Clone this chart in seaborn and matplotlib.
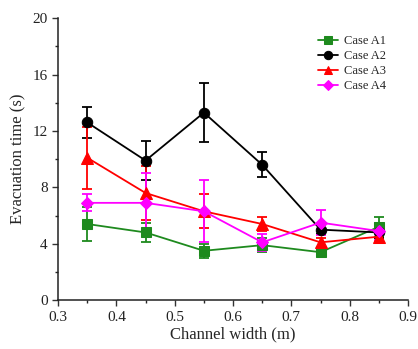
import numpy as np
import pandas as pd
import matplotlib
matplotlib.use("Agg")
import matplotlib.pyplot as plt
import seaborn as sns
from matplotlib.ticker import MultipleLocator

widths = [0.35, 0.45, 0.55, 0.65, 0.75, 0.85]
cases = ["Case A1", "Case A2", "Case A3", "Case A4"]
a1 = [5.4, 4.8, 3.5, 3.9, 3.4, 5.2]
a1_err = [1.2, 0.7, 0.5, 0.5, 0.3, 0.7]
a2 = [12.6, 9.9, 13.3, 9.6, 5.0, 4.8]
a2_err = [1.1, 1.4, 2.1, 0.9, 0.3, 0.4]
a3 = [10.1, 7.6, 6.3, 5.4, 4.1, 4.5]
a3_err = [2.2, 1.9, 1.2, 0.5, 0.3, 0.3]
a4 = [6.9, 6.9, 6.3, 4.1, 5.5, 4.9]
a4_err = [0.6, 2.1, 2.2, 0.6, 0.9, 0.6]

values = [a1, a2, a3, a4]
errors = [a1_err, a2_err, a3_err, a4_err]
colors = ["#1e8a1e", "#000000", "#ff0000", "#ff00ff"]
markers = ["s", "o", "^", "D"]
msizes = [6.5, 7.5, 8, 6.5]

df = pd.DataFrame({
    "width": np.tile(widths, len(cases)),
    "time": np.concatenate(values),
    "err": np.concatenate(errors),
    "case": np.repeat(cases, len(widths)),
})

sns.set_style("ticks")
plt.rcParams["font.family"] = ["Liberation Serif", "DejaVu Serif"]

fig = plt.figure(figsize=(4.18, 3.49), dpi=100)
ax = fig.add_axes([0.139, 0.140, 0.837, 0.808])

for case, c, m, ms in zip(cases, colors, markers, msizes):
    sub = df[df["case"] == case]
    ax.errorbar(sub["width"], sub["time"], yerr=sub["err"], fmt="none",
                ecolor=c, elinewidth=1.3, capsize=3.5, capthick=1.3, zorder=2)
    sns.lineplot(data=sub, x="width", y="time", ax=ax, color=c, marker=m,
                 markersize=ms, markeredgecolor=c, linewidth=1.3,
                 label=case, zorder=3)

ax.set_xlim(0.3, 0.9)
ax.set_ylim(0, 20)
ax.xaxis.set_major_locator(MultipleLocator(0.1))
ax.xaxis.set_minor_locator(MultipleLocator(0.05))
ax.yaxis.set_major_locator(MultipleLocator(4))
ax.yaxis.set_minor_locator(MultipleLocator(2))
ax.set_xticks([0.3, 0.4, 0.5, 0.6, 0.7, 0.8, 0.9])
ax.set_xticklabels(["0.3", "0.4", "0.5", "0.6", "0.7", "0.8", "0.9"])
ax.tick_params(axis="both", which="major", direction="out", length=4, width=1,
               labelsize=11, colors="#333333", labelcolor="#222222")
ax.tick_params(axis="both", which="minor", direction="out", length=2.5, width=1)
for s in ["top", "right"]:
    ax.spines[s].set_visible(False)
for s in ["left", "bottom"]:
    ax.spines[s].set_linewidth(1.1)
    ax.spines[s].set_color("#222222")

ax.set_xlabel("Channel width (m)", fontsize=12, labelpad=2)
ax.set_ylabel("Evacuation time (s)", fontsize=12, labelpad=4)

leg = ax.legend(loc="upper right", bbox_to_anchor=(0.97, 0.98), frameon=False,
                fontsize=9, handlelength=1.6, labelspacing=0.25,
                handletextpad=0.5, markerscale=0.8)

fig.savefig("out.png", dpi=100)
